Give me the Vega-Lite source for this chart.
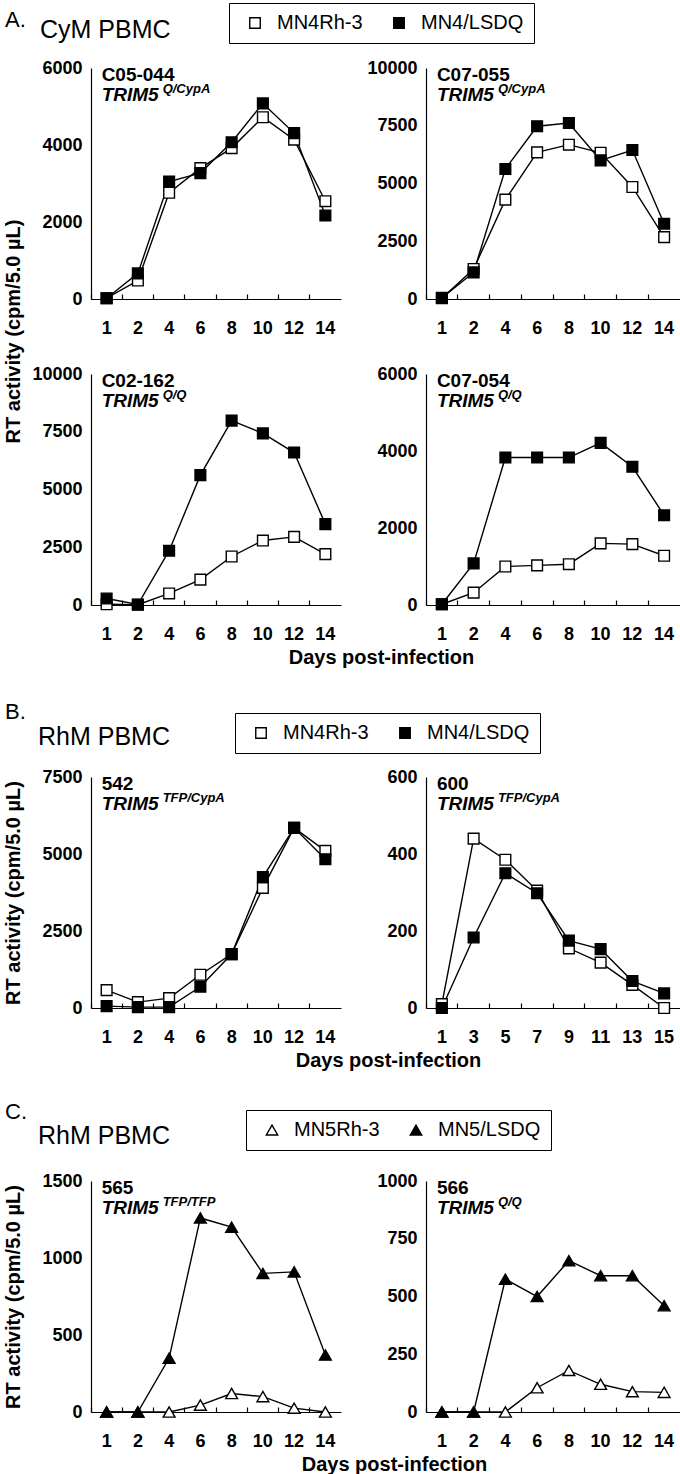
{
"$schema": "https://vega.github.io/schema/vega-lite/v6.json",
"background": "white",
"padding": {"left": 2, "top": 2, "right": 0, "bottom": 0},
"columns": 2,
"bounds": "flush",
"spacing": {"row": 75, "column": 85},
"resolve": {"scale": {"x": "independent", "y": "independent", "fill": "independent"}},
"config": {
 "view": {"stroke": null},
 "font": "Liberation Sans",
 "numberFormat": "d",
 "axis": {"grid": false, "domainColor": "black", "domainWidth": 1.2, "tickColor": "black", "tickWidth": 1.2, "labelColor": "black", "titleColor": "black", "labelFont": "Liberation Sans", "titleFont": "Liberation Sans", "labelFontSize": 18, "labelFontWeight": "bold", "titleFontSize": 20, "titleFontWeight": "bold"},
 "axisX": {"bandPosition": 0, "tickSize": -5, "labelPadding": 25, "labelAngle": 0, "labelOverlap": false},
 "axisY": {"ticks": false, "labelPadding": 9},
 "line": {"color": "black", "strokeWidth": 1.4},
 "point": {"filled": true, "size": 115, "stroke": "black", "strokeWidth": 1.4, "opacity": 1},
 "legend": {"strokeColor": "black", "fillColor": "white", "padding": 10, "labelFontSize": 20, "labelFont": "Liberation Sans", "labelColor": "black", "symbolSize": 110, "symbolStrokeColor": "black", "symbolStrokeWidth": 1.2, "symbolOpacity": 1, "columnPadding": 20, "labelOffset": 12, "symbolOffset": 6, "gridAlign": "none"},
 "title": {"font": "Liberation Sans", "fontWeight": "normal", "color": "black", "fontSize": 22, "anchor": "start", "frame": "group"},
 "style": {
  "nm": {"align": "left", "baseline": "alphabetic", "dx": -5, "dy": 13, "fontSize": 19, "fontWeight": "bold", "font": "Liberation Sans", "fill": "black"},
  "gn": {"align": "left", "baseline": "alphabetic", "dx": -5, "dy": 33, "fontSize": 19, "fontWeight": "bold", "fontStyle": "italic", "font": "Liberation Sans", "fill": "black"},
  "sp": {"align": "left", "baseline": "alphabetic", "dx": 56, "dy": 25, "fontSize": 13, "fontWeight": "bold", "fontStyle": "italic", "font": "Liberation Sans", "fill": "black"}
 }
},
"datasets": {
 "lab": [
  {"p": "A1", "name": "C05-044", "gene": "TRIM5", "sup": "Q/CypA", "ymax": 6000},
  {"p": "A2", "name": "C07-055", "gene": "TRIM5", "sup": "Q/CypA", "ymax": 10000},
  {"p": "A3", "name": "C02-162", "gene": "TRIM5", "sup": "Q/Q", "ymax": 10000},
  {"p": "A4", "name": "C07-054", "gene": "TRIM5", "sup": "Q/Q", "ymax": 6000},
  {"p": "B1", "name": "542", "gene": "TRIM5", "sup": "TFP/CypA", "ymax": 7500},
  {"p": "B2", "name": "600", "gene": "TRIM5", "sup": "TFP/CypA", "ymax": 600},
  {"p": "C1", "name": "565", "gene": "TRIM5", "sup": "TFP/TFP", "ymax": 1500},
  {"p": "C2", "name": "566", "gene": "TRIM5", "sup": "Q/Q", "ymax": 1000}
 ],
 "rt": [
  {"p":"A1","v":"MN4Rh-3","day":1,"rt":20},{"p":"A1","v":"MN4Rh-3","day":2,"rt":480},{"p":"A1","v":"MN4Rh-3","day":4,"rt":2760},{"p":"A1","v":"MN4Rh-3","day":6,"rt":3400},{"p":"A1","v":"MN4Rh-3","day":8,"rt":3920},{"p":"A1","v":"MN4Rh-3","day":10,"rt":4720},{"p":"A1","v":"MN4Rh-3","day":12,"rt":4140},{"p":"A1","v":"MN4Rh-3","day":14,"rt":2540},
  {"p":"A1","v":"MN4/LSDQ","day":1,"rt":20},{"p":"A1","v":"MN4/LSDQ","day":2,"rt":665},{"p":"A1","v":"MN4/LSDQ","day":4,"rt":3050},{"p":"A1","v":"MN4/LSDQ","day":6,"rt":3270},{"p":"A1","v":"MN4/LSDQ","day":8,"rt":4070},{"p":"A1","v":"MN4/LSDQ","day":10,"rt":5080},{"p":"A1","v":"MN4/LSDQ","day":12,"rt":4310},{"p":"A1","v":"MN4/LSDQ","day":14,"rt":2170},
  {"p":"A2","v":"MN4Rh-3","day":1,"rt":30},{"p":"A2","v":"MN4Rh-3","day":2,"rt":1300},{"p":"A2","v":"MN4Rh-3","day":4,"rt":4300},{"p":"A2","v":"MN4Rh-3","day":6,"rt":6350},{"p":"A2","v":"MN4Rh-3","day":8,"rt":6680},{"p":"A2","v":"MN4Rh-3","day":10,"rt":6330},{"p":"A2","v":"MN4Rh-3","day":12,"rt":4850},{"p":"A2","v":"MN4Rh-3","day":14,"rt":2680},
  {"p":"A2","v":"MN4/LSDQ","day":1,"rt":50},{"p":"A2","v":"MN4/LSDQ","day":2,"rt":1150},{"p":"A2","v":"MN4/LSDQ","day":4,"rt":5630},{"p":"A2","v":"MN4/LSDQ","day":6,"rt":7480},{"p":"A2","v":"MN4/LSDQ","day":8,"rt":7620},{"p":"A2","v":"MN4/LSDQ","day":10,"rt":6000},{"p":"A2","v":"MN4/LSDQ","day":12,"rt":6450},{"p":"A2","v":"MN4/LSDQ","day":14,"rt":3260},
  {"p":"A3","v":"MN4Rh-3","day":1,"rt":30},{"p":"A3","v":"MN4Rh-3","day":2,"rt":10},{"p":"A3","v":"MN4Rh-3","day":4,"rt":500},{"p":"A3","v":"MN4Rh-3","day":6,"rt":1100},{"p":"A3","v":"MN4Rh-3","day":8,"rt":2100},{"p":"A3","v":"MN4Rh-3","day":10,"rt":2790},{"p":"A3","v":"MN4Rh-3","day":12,"rt":2950},{"p":"A3","v":"MN4Rh-3","day":14,"rt":2200},
  {"p":"A3","v":"MN4/LSDQ","day":1,"rt":280},{"p":"A3","v":"MN4/LSDQ","day":2,"rt":20},{"p":"A3","v":"MN4/LSDQ","day":4,"rt":2350},{"p":"A3","v":"MN4/LSDQ","day":6,"rt":5620},{"p":"A3","v":"MN4/LSDQ","day":8,"rt":7980},{"p":"A3","v":"MN4/LSDQ","day":10,"rt":7430},{"p":"A3","v":"MN4/LSDQ","day":12,"rt":6600},{"p":"A3","v":"MN4/LSDQ","day":14,"rt":3500},
  {"p":"A4","v":"MN4Rh-3","day":1,"rt":20},{"p":"A4","v":"MN4Rh-3","day":2,"rt":320},{"p":"A4","v":"MN4Rh-3","day":4,"rt":1000},{"p":"A4","v":"MN4Rh-3","day":6,"rt":1030},{"p":"A4","v":"MN4Rh-3","day":8,"rt":1060},{"p":"A4","v":"MN4Rh-3","day":10,"rt":1600},{"p":"A4","v":"MN4Rh-3","day":12,"rt":1580},{"p":"A4","v":"MN4Rh-3","day":14,"rt":1280},
  {"p":"A4","v":"MN4/LSDQ","day":1,"rt":20},{"p":"A4","v":"MN4/LSDQ","day":2,"rt":1080},{"p":"A4","v":"MN4/LSDQ","day":4,"rt":3830},{"p":"A4","v":"MN4/LSDQ","day":6,"rt":3830},{"p":"A4","v":"MN4/LSDQ","day":8,"rt":3830},{"p":"A4","v":"MN4/LSDQ","day":10,"rt":4210},{"p":"A4","v":"MN4/LSDQ","day":12,"rt":3590},{"p":"A4","v":"MN4/LSDQ","day":14,"rt":2330},
  {"p":"B1","v":"MN4Rh-3","day":1,"rt":580},{"p":"B1","v":"MN4Rh-3","day":2,"rt":190},{"p":"B1","v":"MN4Rh-3","day":4,"rt":320},{"p":"B1","v":"MN4Rh-3","day":6,"rt":1080},{"p":"B1","v":"MN4Rh-3","day":8,"rt":1750},{"p":"B1","v":"MN4Rh-3","day":10,"rt":3900},{"p":"B1","v":"MN4Rh-3","day":12,"rt":5850},{"p":"B1","v":"MN4Rh-3","day":14,"rt":5100},
  {"p":"B1","v":"MN4/LSDQ","day":1,"rt":60},{"p":"B1","v":"MN4/LSDQ","day":2,"rt":30},{"p":"B1","v":"MN4/LSDQ","day":4,"rt":30},{"p":"B1","v":"MN4/LSDQ","day":6,"rt":690},{"p":"B1","v":"MN4/LSDQ","day":8,"rt":1750},{"p":"B1","v":"MN4/LSDQ","day":10,"rt":4250},{"p":"B1","v":"MN4/LSDQ","day":12,"rt":5850},{"p":"B1","v":"MN4/LSDQ","day":14,"rt":4830},
  {"p":"B2","v":"MN4Rh-3","day":1,"rt":10},{"p":"B2","v":"MN4Rh-3","day":3,"rt":440},{"p":"B2","v":"MN4Rh-3","day":5,"rt":385},{"p":"B2","v":"MN4Rh-3","day":7,"rt":305},{"p":"B2","v":"MN4Rh-3","day":9,"rt":155},{"p":"B2","v":"MN4Rh-3","day":11,"rt":118},{"p":"B2","v":"MN4Rh-3","day":13,"rt":60},{"p":"B2","v":"MN4Rh-3","day":15,"rt":0},
  {"p":"B2","v":"MN4/LSDQ","day":1,"rt":0},{"p":"B2","v":"MN4/LSDQ","day":3,"rt":183},{"p":"B2","v":"MN4/LSDQ","day":5,"rt":350},{"p":"B2","v":"MN4/LSDQ","day":7,"rt":298},{"p":"B2","v":"MN4/LSDQ","day":9,"rt":175},{"p":"B2","v":"MN4/LSDQ","day":11,"rt":153},{"p":"B2","v":"MN4/LSDQ","day":13,"rt":70},{"p":"B2","v":"MN4/LSDQ","day":15,"rt":38},
  {"p":"C1","v":"MN5Rh-3","day":1,"rt":0},{"p":"C1","v":"MN5Rh-3","day":2,"rt":0},{"p":"C1","v":"MN5Rh-3","day":4,"rt":0},{"p":"C1","v":"MN5Rh-3","day":6,"rt":45},{"p":"C1","v":"MN5Rh-3","day":8,"rt":120},{"p":"C1","v":"MN5Rh-3","day":10,"rt":100},{"p":"C1","v":"MN5Rh-3","day":12,"rt":25},{"p":"C1","v":"MN5Rh-3","day":14,"rt":0},
  {"p":"C1","v":"MN5/LSDQ","day":1,"rt":0},{"p":"C1","v":"MN5/LSDQ","day":2,"rt":0},{"p":"C1","v":"MN5/LSDQ","day":4,"rt":350},{"p":"C1","v":"MN5/LSDQ","day":6,"rt":1260},{"p":"C1","v":"MN5/LSDQ","day":8,"rt":1200},{"p":"C1","v":"MN5/LSDQ","day":10,"rt":900},{"p":"C1","v":"MN5/LSDQ","day":12,"rt":910},{"p":"C1","v":"MN5/LSDQ","day":14,"rt":370},
  {"p":"C2","v":"MN5Rh-3","day":1,"rt":0},{"p":"C2","v":"MN5Rh-3","day":2,"rt":0},{"p":"C2","v":"MN5Rh-3","day":4,"rt":0},{"p":"C2","v":"MN5Rh-3","day":6,"rt":105},{"p":"C2","v":"MN5Rh-3","day":8,"rt":180},{"p":"C2","v":"MN5Rh-3","day":10,"rt":120},{"p":"C2","v":"MN5Rh-3","day":12,"rt":88},{"p":"C2","v":"MN5Rh-3","day":14,"rt":85},
  {"p":"C2","v":"MN5/LSDQ","day":1,"rt":0},{"p":"C2","v":"MN5/LSDQ","day":2,"rt":0},{"p":"C2","v":"MN5/LSDQ","day":4,"rt":575},{"p":"C2","v":"MN5/LSDQ","day":6,"rt":500},{"p":"C2","v":"MN5/LSDQ","day":8,"rt":655},{"p":"C2","v":"MN5/LSDQ","day":10,"rt":590},{"p":"C2","v":"MN5/LSDQ","day":12,"rt":590},{"p":"C2","v":"MN5/LSDQ","day":14,"rt":460}
 ]
},
"concat": [
 {"width": 250, "height": 231,
  "title": {"text": "CyM PBMC", "fontSize": 25, "dx": -51, "offset": 16},
  "layer": [
   {"data": {"name": "rt"}, "transform": [{"filter": "datum.p === 'A1'"}], "mark": "line",
    "encoding": {"x": {"field": "day", "type": "ordinal", "scale": {"type": "band", "domain": [1,2,4,6,8,10,12,14], "paddingInner": 0, "paddingOuter": 0}, "axis": {"title": null}},
     "y": {"field": "rt", "type": "quantitative", "scale": {"domain": [0, 6000], "nice": false}, "axis": {"values": [0,2000,4000,6000], "title": "RT activity (cpm/5.0 µL)", "titleX": -68, "titleY": 263, "titleAngle": -90, "titleAlign": "center", "titleBaseline": "bottom"}},
     "detail": {"field": "v"}}},
   {"data": {"name": "rt"}, "transform": [{"filter": "datum.p === 'A1'"}], "mark": {"type": "point", "shape": "square"},
    "encoding": {"x": {"field": "day", "type": "ordinal"}, "y": {"field": "rt", "type": "quantitative"}, "fill": {"field": "v", "type": "nominal", "scale": {"domain": ["MN4Rh-3", "MN4/LSDQ"], "range": ["white", "black"]}, "legend": null}}},
   {"data": {"name": "lab"}, "transform": [{"filter": "datum.p === 'A1'"}], "mark": {"type": "text", "style": "nm"}, "encoding": {"x": {"datum": 1, "type": "ordinal"}, "y": {"field": "ymax", "type": "quantitative"}, "text": {"field": "name"}}},
   {"data": {"name": "lab"}, "transform": [{"filter": "datum.p === 'A1'"}], "mark": {"type": "text", "style": "gn"}, "encoding": {"x": {"datum": 1, "type": "ordinal"}, "y": {"field": "ymax", "type": "quantitative"}, "text": {"field": "gene"}}},
   {"data": {"name": "lab"}, "transform": [{"filter": "datum.p === 'A1'"}], "mark": {"type": "text", "style": "sp"}, "encoding": {"x": {"datum": 1, "type": "ordinal"}, "y": {"field": "ymax", "type": "quantitative"}, "text": {"field": "sup"}}}
  ]},
 {"width": 254, "height": 231,
  "title": {"text": "A.", "dx": -421, "offset": 27},
  "layer": [
   {"data": {"name": "rt"}, "transform": [{"filter": "datum.p === 'A2'"}], "mark": "line",
    "encoding": {"x": {"field": "day", "type": "ordinal", "scale": {"type": "band", "domain": [1,2,4,6,8,10,12,14], "paddingInner": 0, "paddingOuter": 0}, "axis": {"title": null}},
     "y": {"field": "rt", "type": "quantitative", "scale": {"domain": [0, 10000], "nice": false}, "axis": {"values": [0,2500,5000,7500,10000], "title": null}},
     "detail": {"field": "v"}}},
   {"data": {"name": "rt"}, "transform": [{"filter": "datum.p === 'A2'"}], "mark": {"type": "point", "shape": "square"},
    "encoding": {"x": {"field": "day", "type": "ordinal"}, "y": {"field": "rt", "type": "quantitative"}, "fill": {"field": "v", "type": "nominal", "scale": {"domain": ["MN4Rh-3", "MN4/LSDQ"], "range": ["white", "black"]}, "legend": null}}},
   {"data": {"name": "lab"}, "transform": [{"filter": "datum.p === 'A2'"}], "mark": {"type": "text", "style": "nm"}, "encoding": {"x": {"datum": 1, "type": "ordinal"}, "y": {"field": "ymax", "type": "quantitative"}, "text": {"field": "name"}}},
   {"data": {"name": "lab"}, "transform": [{"filter": "datum.p === 'A2'"}], "mark": {"type": "text", "style": "gn"}, "encoding": {"x": {"datum": 1, "type": "ordinal"}, "y": {"field": "ymax", "type": "quantitative"}, "text": {"field": "gene"}}},
   {"data": {"name": "lab"}, "transform": [{"filter": "datum.p === 'A2'"}], "mark": {"type": "text", "style": "sp"}, "encoding": {"x": {"datum": 1, "type": "ordinal"}, "y": {"field": "ymax", "type": "quantitative"}, "text": {"field": "sup"}}}
  ]},
 {"width": 250, "height": 231,
  "layer": [
   {"data": {"name": "rt"}, "transform": [{"filter": "datum.p === 'A3'"}], "mark": "line",
    "encoding": {"x": {"field": "day", "type": "ordinal", "scale": {"type": "band", "domain": [1,2,4,6,8,10,12,14], "paddingInner": 0, "paddingOuter": 0}, "axis": {"title": "Days post-infection", "titleX": 290, "titleY": 42, "titleAlign": "center", "titleBaseline": "top"}},
     "y": {"field": "rt", "type": "quantitative", "scale": {"domain": [0, 10000], "nice": false}, "axis": {"values": [0,2500,5000,7500,10000], "title": null}},
     "detail": {"field": "v"}}},
   {"data": {"name": "rt"}, "transform": [{"filter": "datum.p === 'A3'"}], "mark": {"type": "point", "shape": "square"},
    "encoding": {"x": {"field": "day", "type": "ordinal"}, "y": {"field": "rt", "type": "quantitative"}, "fill": {"field": "v", "type": "nominal", "scale": {"domain": ["MN4Rh-3", "MN4/LSDQ"], "range": ["white", "black"]}, "legend": null}}},
   {"data": {"name": "lab"}, "transform": [{"filter": "datum.p === 'A3'"}], "mark": {"type": "text", "style": "nm"}, "encoding": {"x": {"datum": 1, "type": "ordinal"}, "y": {"field": "ymax", "type": "quantitative"}, "text": {"field": "name"}}},
   {"data": {"name": "lab"}, "transform": [{"filter": "datum.p === 'A3'"}], "mark": {"type": "text", "style": "gn"}, "encoding": {"x": {"datum": 1, "type": "ordinal"}, "y": {"field": "ymax", "type": "quantitative"}, "text": {"field": "gene"}}},
   {"data": {"name": "lab"}, "transform": [{"filter": "datum.p === 'A3'"}], "mark": {"type": "text", "style": "sp"}, "encoding": {"x": {"datum": 1, "type": "ordinal"}, "y": {"field": "ymax", "type": "quantitative"}, "text": {"field": "sup"}}}
  ]},
 {"width": 254, "height": 231,
  "layer": [
   {"data": {"name": "rt"}, "transform": [{"filter": "datum.p === 'A4'"}], "mark": "line",
    "encoding": {"x": {"field": "day", "type": "ordinal", "scale": {"type": "band", "domain": [1,2,4,6,8,10,12,14], "paddingInner": 0, "paddingOuter": 0}, "axis": {"title": null}},
     "y": {"field": "rt", "type": "quantitative", "scale": {"domain": [0, 6000], "nice": false}, "axis": {"values": [0,2000,4000,6000], "title": null}},
     "detail": {"field": "v"}}},
   {"data": {"name": "rt"}, "transform": [{"filter": "datum.p === 'A4'"}], "mark": {"type": "point", "shape": "square"},
    "encoding": {"x": {"field": "day", "type": "ordinal"}, "y": {"field": "rt", "type": "quantitative"}, "fill": {"field": "v", "type": "nominal", "scale": {"domain": ["MN4Rh-3", "MN4/LSDQ"], "range": ["white", "black"]}, "legend": {"orient": "none", "legendX": -197, "legendY": -371, "direction": "horizontal", "title": null, "symbolType": "square"}}}},
   {"data": {"name": "lab"}, "transform": [{"filter": "datum.p === 'A4'"}], "mark": {"type": "text", "style": "nm"}, "encoding": {"x": {"datum": 1, "type": "ordinal"}, "y": {"field": "ymax", "type": "quantitative"}, "text": {"field": "name"}}},
   {"data": {"name": "lab"}, "transform": [{"filter": "datum.p === 'A4'"}], "mark": {"type": "text", "style": "gn"}, "encoding": {"x": {"datum": 1, "type": "ordinal"}, "y": {"field": "ymax", "type": "quantitative"}, "text": {"field": "gene"}}},
   {"data": {"name": "lab"}, "transform": [{"filter": "datum.p === 'A4'"}], "mark": {"type": "text", "style": "sp"}, "encoding": {"x": {"datum": 1, "type": "ordinal"}, "y": {"field": "ymax", "type": "quantitative"}, "text": {"field": "sup"}}}
  ]},
 {"width": 250, "height": 22, "title": {"text": "B.", "orient": "bottom", "dx": -86, "offset": 0}, "data": {"values": [{"t": ""}]}, "mark": {"type": "text"}, "encoding": {"text": {"field": "t"}}},
 {"width": 254, "height": 22, "data": {"values": [{"t": ""}]}, "mark": {"type": "text"}, "encoding": {"text": {"field": "t"}}},
 {"width": 250, "height": 231,
  "title": {"text": "RhM PBMC", "fontSize": 25, "dx": -53, "offset": 18},
  "layer": [
   {"data": {"name": "rt"}, "transform": [{"filter": "datum.p === 'B1'"}], "mark": "line",
    "encoding": {"x": {"field": "day", "type": "ordinal", "scale": {"type": "band", "domain": [1,2,4,6,8,10,12,14], "paddingInner": 0, "paddingOuter": 0}, "axis": {"title": "Days post-infection", "titleX": 297, "titleY": 42, "titleAlign": "center", "titleBaseline": "top"}},
     "y": {"field": "rt", "type": "quantitative", "scale": {"domain": [0, 7500], "nice": false}, "axis": {"values": [0,2500,5000,7500], "title": "RT activity (cpm/5.0 µL)", "titleX": -68, "titleY": 115.5, "titleAngle": -90, "titleAlign": "center", "titleBaseline": "bottom"}},
     "detail": {"field": "v"}}},
   {"data": {"name": "rt"}, "transform": [{"filter": "datum.p === 'B1'"}], "mark": {"type": "point", "shape": "square"},
    "encoding": {"x": {"field": "day", "type": "ordinal"}, "y": {"field": "rt", "type": "quantitative"}, "fill": {"field": "v", "type": "nominal", "scale": {"domain": ["MN4Rh-3", "MN4/LSDQ"], "range": ["white", "black"]}, "legend": null}}},
   {"data": {"name": "lab"}, "transform": [{"filter": "datum.p === 'B1'"}], "mark": {"type": "text", "style": "nm"}, "encoding": {"x": {"datum": 1, "type": "ordinal"}, "y": {"field": "ymax", "type": "quantitative"}, "text": {"field": "name"}}},
   {"data": {"name": "lab"}, "transform": [{"filter": "datum.p === 'B1'"}], "mark": {"type": "text", "style": "gn"}, "encoding": {"x": {"datum": 1, "type": "ordinal"}, "y": {"field": "ymax", "type": "quantitative"}, "text": {"field": "gene"}}},
   {"data": {"name": "lab"}, "transform": [{"filter": "datum.p === 'B1'"}], "mark": {"type": "text", "style": "sp"}, "encoding": {"x": {"datum": 1, "type": "ordinal"}, "y": {"field": "ymax", "type": "quantitative"}, "text": {"field": "sup"}}}
  ]},
 {"width": 254, "height": 231,
  "layer": [
   {"data": {"name": "rt"}, "transform": [{"filter": "datum.p === 'B2'"}], "mark": "line",
    "encoding": {"x": {"field": "day", "type": "ordinal", "scale": {"type": "band", "domain": [1,3,5,7,9,11,13,15], "paddingInner": 0, "paddingOuter": 0}, "axis": {"title": null}},
     "y": {"field": "rt", "type": "quantitative", "scale": {"domain": [0, 600], "nice": false}, "axis": {"values": [0,200,400,600], "title": null}},
     "detail": {"field": "v"}}},
   {"data": {"name": "rt"}, "transform": [{"filter": "datum.p === 'B2'"}], "mark": {"type": "point", "shape": "square"},
    "encoding": {"x": {"field": "day", "type": "ordinal"}, "y": {"field": "rt", "type": "quantitative"}, "fill": {"field": "v", "type": "nominal", "scale": {"domain": ["MN4Rh-3", "MN4/LSDQ"], "range": ["white", "black"]}, "legend": {"orient": "none", "legendX": -191, "legendY": -64, "direction": "horizontal", "title": null, "symbolType": "square"}}}},
   {"data": {"name": "lab"}, "transform": [{"filter": "datum.p === 'B2'"}], "mark": {"type": "text", "style": "nm"}, "encoding": {"x": {"datum": 1, "type": "ordinal"}, "y": {"field": "ymax", "type": "quantitative"}, "text": {"field": "name"}}},
   {"data": {"name": "lab"}, "transform": [{"filter": "datum.p === 'B2'"}], "mark": {"type": "text", "style": "gn"}, "encoding": {"x": {"datum": 1, "type": "ordinal"}, "y": {"field": "ymax", "type": "quantitative"}, "text": {"field": "gene"}}},
   {"data": {"name": "lab"}, "transform": [{"filter": "datum.p === 'B2'"}], "mark": {"type": "text", "style": "sp"}, "encoding": {"x": {"datum": 1, "type": "ordinal"}, "y": {"field": "ymax", "type": "quantitative"}, "text": {"field": "sup"}}}
  ]},
 {"width": 250, "height": 23, "title": {"text": "C.", "orient": "bottom", "dx": -86, "offset": -4}, "data": {"values": [{"t": ""}]}, "mark": {"type": "text"}, "encoding": {"text": {"field": "t"}}},
 {"width": 254, "height": 23, "data": {"values": [{"t": ""}]}, "mark": {"type": "text"}, "encoding": {"text": {"field": "t"}}},
 {"width": 250, "height": 231,
  "title": {"text": "RhM PBMC", "fontSize": 25, "dx": -53, "offset": 23},
  "layer": [
   {"data": {"name": "rt"}, "transform": [{"filter": "datum.p === 'C1'"}], "mark": "line",
    "encoding": {"x": {"field": "day", "type": "ordinal", "scale": {"type": "band", "domain": [1,2,4,6,8,10,12,14], "paddingInner": 0, "paddingOuter": 0}, "axis": {"title": "Days post-infection", "titleX": 303, "titleY": 42, "titleAlign": "center", "titleBaseline": "top"}},
     "y": {"field": "rt", "type": "quantitative", "scale": {"domain": [0, 1500], "nice": false}, "axis": {"values": [0,500,1000,1500], "title": "RT activity (cpm/5.0 µL)", "titleX": -68, "titleY": 115.5, "titleAngle": -90, "titleAlign": "center", "titleBaseline": "bottom"}},
     "detail": {"field": "v"}}},
   {"data": {"name": "rt"}, "transform": [{"filter": "datum.p === 'C1'"}], "mark": {"type": "point", "shape": "triangle-up", "size": 140},
    "encoding": {"x": {"field": "day", "type": "ordinal"}, "y": {"field": "rt", "type": "quantitative"}, "fill": {"field": "v", "type": "nominal", "scale": {"domain": ["MN5Rh-3", "MN5/LSDQ"], "range": ["white", "black"]}, "legend": null}}},
   {"data": {"name": "lab"}, "transform": [{"filter": "datum.p === 'C1'"}], "mark": {"type": "text", "style": "nm"}, "encoding": {"x": {"datum": 1, "type": "ordinal"}, "y": {"field": "ymax", "type": "quantitative"}, "text": {"field": "name"}}},
   {"data": {"name": "lab"}, "transform": [{"filter": "datum.p === 'C1'"}], "mark": {"type": "text", "style": "gn"}, "encoding": {"x": {"datum": 1, "type": "ordinal"}, "y": {"field": "ymax", "type": "quantitative"}, "text": {"field": "gene"}}},
   {"data": {"name": "lab"}, "transform": [{"filter": "datum.p === 'C1'"}], "mark": {"type": "text", "style": "sp"}, "encoding": {"x": {"datum": 1, "type": "ordinal"}, "y": {"field": "ymax", "type": "quantitative"}, "text": {"field": "sup"}}}
  ]},
 {"width": 254, "height": 231,
  "layer": [
   {"data": {"name": "rt"}, "transform": [{"filter": "datum.p === 'C2'"}], "mark": "line",
    "encoding": {"x": {"field": "day", "type": "ordinal", "scale": {"type": "band", "domain": [1,2,4,6,8,10,12,14], "paddingInner": 0, "paddingOuter": 0}, "axis": {"title": null}},
     "y": {"field": "rt", "type": "quantitative", "scale": {"domain": [0, 1000], "nice": false}, "axis": {"values": [0,250,500,750,1000], "title": null}},
     "detail": {"field": "v"}}},
   {"data": {"name": "rt"}, "transform": [{"filter": "datum.p === 'C2'"}], "mark": {"type": "point", "shape": "triangle-up", "size": 140},
    "encoding": {"x": {"field": "day", "type": "ordinal"}, "y": {"field": "rt", "type": "quantitative"}, "fill": {"field": "v", "type": "nominal", "scale": {"domain": ["MN5Rh-3", "MN5/LSDQ"], "range": ["white", "black"]}, "legend": {"orient": "none", "legendX": -180, "legendY": -71, "direction": "horizontal", "title": null, "symbolType": "triangle-up", "symbolSize": 130}}}},
   {"data": {"name": "lab"}, "transform": [{"filter": "datum.p === 'C2'"}], "mark": {"type": "text", "style": "nm"}, "encoding": {"x": {"datum": 1, "type": "ordinal"}, "y": {"field": "ymax", "type": "quantitative"}, "text": {"field": "name"}}},
   {"data": {"name": "lab"}, "transform": [{"filter": "datum.p === 'C2'"}], "mark": {"type": "text", "style": "gn"}, "encoding": {"x": {"datum": 1, "type": "ordinal"}, "y": {"field": "ymax", "type": "quantitative"}, "text": {"field": "gene"}}},
   {"data": {"name": "lab"}, "transform": [{"filter": "datum.p === 'C2'"}], "mark": {"type": "text", "style": "sp"}, "encoding": {"x": {"datum": 1, "type": "ordinal"}, "y": {"field": "ymax", "type": "quantitative"}, "text": {"field": "sup"}}}
  ]}
]
}
